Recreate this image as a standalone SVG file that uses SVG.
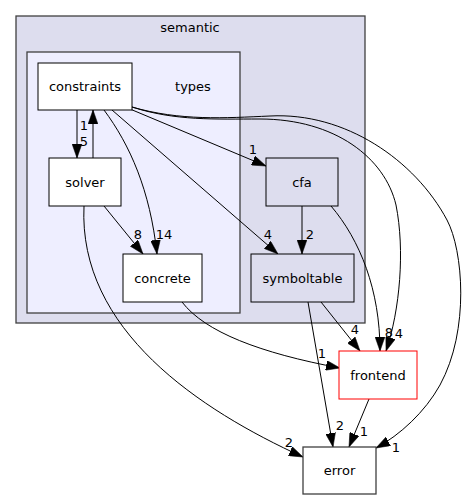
<svg xmlns="http://www.w3.org/2000/svg" width="467" height="500" viewBox="0 0 467 500">
<style>
text{font-family:"DejaVu Sans","Liberation Sans",sans-serif;font-size:13px;fill:#000}
.c{text-anchor:middle}
.cl1{fill:#ddddee;stroke:#404040;stroke-width:1.3}
.cl2{fill:#eeeeff;stroke:#404040;stroke-width:1.3}
.n{fill:#ffffff;stroke:#000;stroke-width:1}
.nd{fill:#ddddee;stroke:#000;stroke-width:1}
.nr{fill:#ffffff;stroke:#ff0000;stroke-width:1}
.ng{fill:#ffffff;stroke:#404040;stroke-width:1.3}
.e{fill:none;stroke:#000;stroke-width:1;marker-end:url(#ah)}
</style>
<defs>
<marker id="ah" markerUnits="userSpaceOnUse" markerWidth="14" markerHeight="10" viewBox="0 0 13.3 9.3" refX="13.3" refY="4.65" orient="auto">
<path d="M0,0 L13.3,4.65 L0,9.3 z" fill="#000" stroke="#000" stroke-width="0.5"/>
</marker>
</defs>
<rect width="467" height="500" fill="#ffffff"/>
<g id="cluster-semantic">
<rect class="cl1" x="16" y="16" width="349" height="307"/>
<text class="c" x="190" y="31.5">semantic</text>
</g>
<g id="cluster-types">
<rect class="cl2" x="27" y="52" width="213" height="261"/>
<text class="c" x="193" y="90.5">types</text>
</g>
<g id="connectors">
<path class="e" d="M77,110 L77,158"/>
<path class="e" d="M93,158 L93,110"/>
<path class="e" d="M104,206 L143,254"/>
<path class="e" d="M104,110 C130,145 150,190 157,254"/>
<path class="e" d="M112,110 L278,254"/>
<path class="e" d="M130,109 L266,166"/>
<path class="e" d="M132,107 C175,121 215,119 260,119 C335,119 385,158 396,205 C405,250 400,310 386,351"/>
<path class="e" d="M132,107 C180,121 225,118 270,116 C345,112 415,160 447,220 C463,250 470,330 440,385 C425,412 400,435 376,448"/>
<path class="e" d="M302,206 L302,254"/>
<path class="e" d="M331,206 C360,240 380,290 380,351"/>
<path class="e" d="M321,302 L360,351"/>
<path class="e" d="M308,302 L333,447"/>
<path class="e" d="M182,302 C205,332 260,353 340,368"/>
<path class="e" d="M84,206 C78,330 200,410 303,457"/>
<path class="e" d="M369,399 L349,447"/>
<text class="c" x="84" y="129.5">1</text>
<text class="c" x="84" y="145.5">5</text>
<text class="c" x="138" y="239">8</text>
<text class="c" x="164" y="239">14</text>
<text class="c" x="268" y="239">4</text>
<text class="c" x="310" y="239">2</text>
<text class="c" x="253" y="154">1</text>
<text class="c" x="389" y="337">8</text>
<text class="c" x="399" y="338">4</text>
<text class="c" x="355" y="334">4</text>
<text class="c" x="322" y="358">1</text>
<text class="c" x="340" y="430">2</text>
<text class="c" x="364" y="436">1</text>
<text class="c" x="396" y="452">1</text>
<text class="c" x="289" y="447">2</text>
</g>
<g id="node-constraints">
<rect class="n" x="38" y="63" width="94" height="47"/>
<text class="c" x="85" y="91">constraints</text>
</g>
<g id="node-solver">
<rect class="n" x="49" y="158" width="72" height="48"/>
<text class="c" x="85" y="186.5">solver</text>
</g>
<g id="node-concrete">
<rect class="n" x="123" y="254" width="79" height="48"/>
<text class="c" x="162.5" y="282.5">concrete</text>
</g>
<g id="node-cfa">
<rect class="nd" x="266" y="158" width="72" height="48"/>
<text class="c" x="302" y="186.5">cfa</text>
</g>
<g id="node-symboltable">
<rect class="nd" x="251" y="254" width="103" height="48"/>
<text class="c" x="302.5" y="282.5">symboltable</text>
</g>
<g id="node-frontend">
<rect class="nr" x="339" y="351" width="78" height="48"/>
<text class="c" x="378" y="379.5">frontend</text>
</g>
<g id="node-error">
<rect class="ng" x="303" y="447" width="73" height="47"/>
<text class="c" x="339.5" y="475">error</text>
</g>
</svg>
